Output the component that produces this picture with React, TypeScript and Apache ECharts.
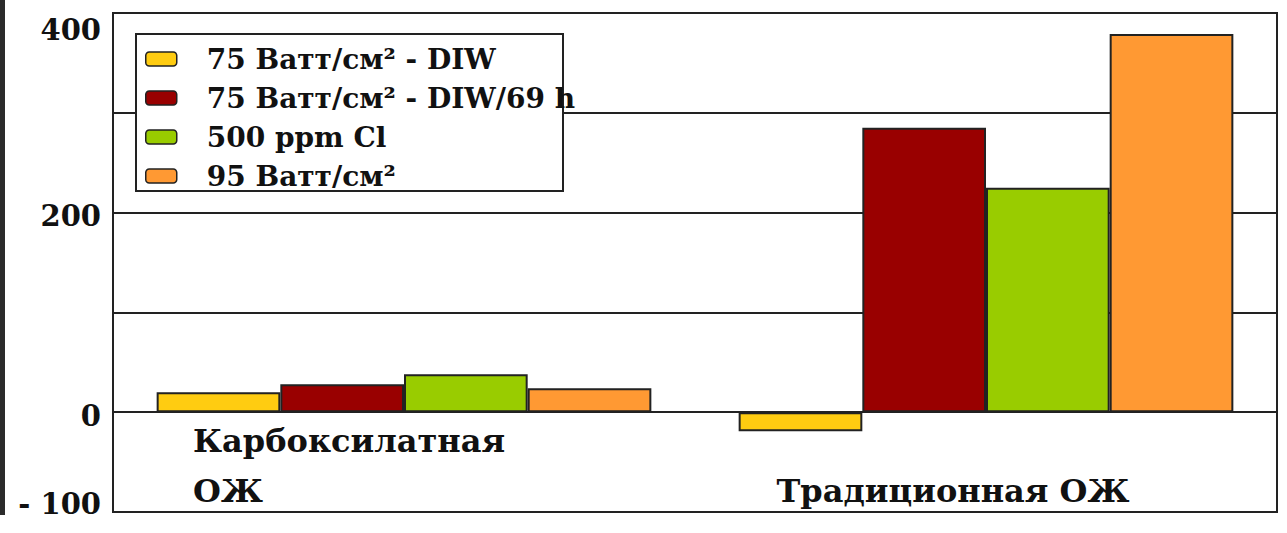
import React, { useEffect, useRef } from "react";
import * as echarts from "echarts";

const categories = ["Карбоксилатная ОЖ", "Традиционная ОЖ"];
const seriesNames = [
  "75 Ватт/см² - DIW",
  "75 Ватт/см² - DIW/69 h",
  "500 ppm Cl",
  "95 Ватт/см²",
];
const diw75 = [20, -19];
const diw75h69 = [28, 285];
const cl500 = [38, 225];
const w95 = [24, 379];
const seriesColors = ["#FFCC11", "#990000", "#99CC00", "#FF9933"];
const yTickLabels: Record<number, string> = { 400: "400", 200: "200", 0: "0", [-100]: "- 100" };

const FONT = "DejaVu Serif";

export default function App() {
  const ref = useRef<HTMLDivElement>(null);
  useEffect(() => {
    if (!ref.current) return;
    const chart = echarts.init(ref.current, undefined, { renderer: "svg" });
    const values = [diw75, diw75h69, cl500, w95];
    const axisFont = { fontFamily: FONT, fontWeight: "bold", fontSize: 29, color: "#111" };
    const catFont = { fontFamily: FONT, fontWeight: "bold", fontSize: 32, color: "#111" };
    chart.setOption({
      animation: false,
      backgroundColor: "#ffffff",
      grid: {
        left: 113,
        right: 10,
        top: 13,
        bottom: 21,
        show: true,
        borderColor: "#222",
        borderWidth: 2,
        containLabel: false,
        outerBoundsMode: "none",
      },
      graphic: [
        {
          type: "rect",
          left: 0,
          top: 0,
          shape: { width: 5, height: 515 },
          style: { fill: "#2b2b2b" },
          z: 1,
        },
        {
          type: "rect",
          left: 135,
          top: 33,
          shape: { width: 427, height: 157 },
          style: { fill: "#ffffff", stroke: "#222", lineWidth: 2 },
          z: 5,
        },
      ],
      legend: {
        orient: "vertical",
        left: 145,
        top: 44,
        padding: 0,
        itemGap: 9,
        itemWidth: 31,
        itemHeight: 14,
        icon: "roundRect",
        z: 10,
        data: seriesNames,
        itemStyle: { borderColor: "#222", borderWidth: 1.5 },
        textStyle: {
          fontFamily: FONT,
          fontWeight: "bold",
          fontSize: 28,
          color: "#111",
          lineHeight: 30,
          padding: [0, 0, 0, 25],
        },
      },
      xAxis: {
        type: "category",
        data: categories,
        offset: -100,
        axisLine: { onZero: false, lineStyle: { color: "#222", width: 2 } },
        axisTick: { show: false },
        axisLabel: {
          margin: 4,
          formatter: (v: string) =>
            v === categories[0]
              ? "{a|Карбоксилатная}\n{a|ОЖ}"
              : "{b|Традиционная ОЖ}",
          rich: {
            a: { width: 422, align: "left", lineHeight: 50, ...catFont },
            b: { lineHeight: 50, padding: [100, 66, 0, 0], ...catFont },
          },
        },
      },
      yAxis: {
        type: "value",
        min: -100,
        max: 400,
        interval: 100,
        axisLine: { show: true, lineStyle: { color: "#222", width: 2 } },
        axisTick: { show: false },
        splitLine: { show: true, lineStyle: { color: "#222", width: 2 } },
        axisLabel: {
          margin: 12,
          formatter: (v: number) => {
            const t = yTickLabels[v];
            if (t === undefined) return "";
            if (v === 400) return "{top|" + t + "}";
            if (v === -100) return "{bot|" + t + "}";
            return "{mid|" + t + "}";
          },
          rich: {
            top: { padding: [34, 0, 0, 0], ...axisFont },
            mid: { padding: [7, 0, 0, 0], ...axisFont },
            bot: { padding: [0, 0, 16, 0], ...axisFont },
          },
        },
      },
      series: seriesNames.map((name, i) => ({
        name,
        type: "bar",
        data: values[i],
        barGap: "0%",
        barCategoryGap: "15%",
        itemStyle: { color: seriesColors[i], borderColor: "#222", borderWidth: 2 },
      })),
    });
    return () => chart.dispose();
  }, []);
  return (
    <div
      ref={ref}
      style={{ position: "fixed", left: 0, top: 0, width: 1287, height: 533 }}
    />
  );
}
